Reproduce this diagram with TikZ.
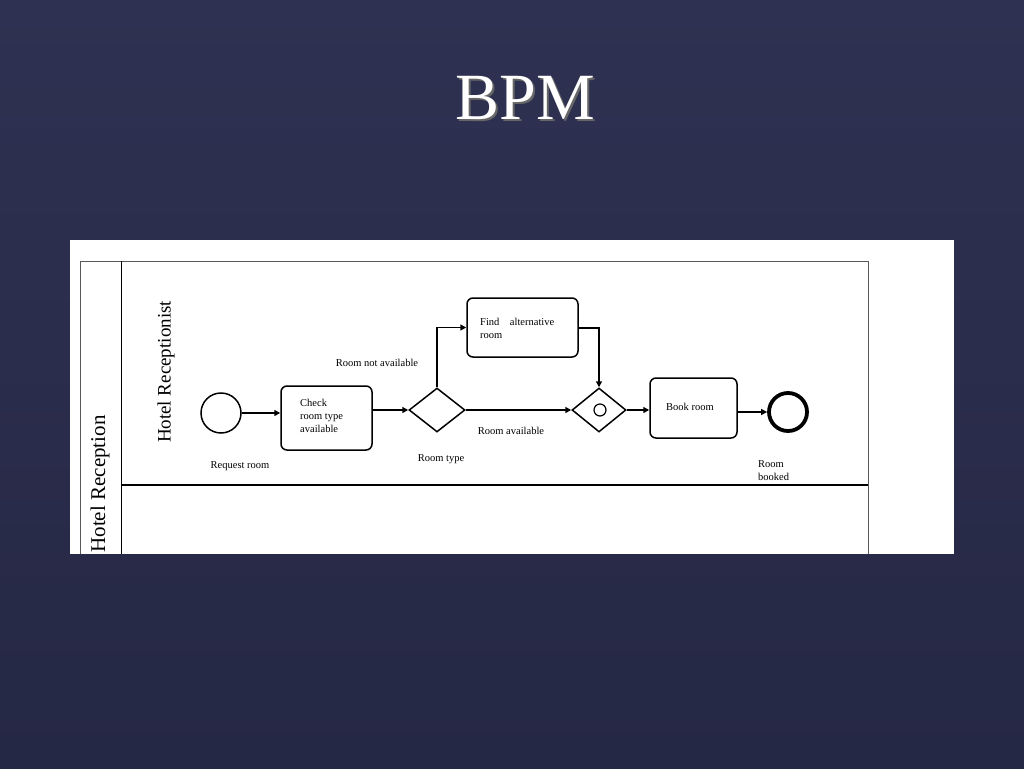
\documentclass[tikz,border=0pt]{standalone}
\usepackage{fontspec}
\setmainfont{Liberation Serif}
\usetikzlibrary{arrows.meta,shapes.geometric}
\definecolor{bgA}{HTML}{2F3152}
\definecolor{bgB}{HTML}{252844}
\begin{document}
\begin{tikzpicture}[x=1pt,y=-1pt,
  task/.style={draw,line width=1.5pt,rounded corners=6pt,fill=white},
  gate/.style={draw,line width=1.5pt,diamond,fill=white,inner sep=0pt},
  lbl/.style={font=\fontsize{10.5}{13}\selectfont,inner sep=0pt},
  flow/.style={line width=1.5pt,-{Triangle[length=6pt,width=6pt]}}]
\useasboundingbox (0,0) rectangle (1024,768);
\shade[top color=bgA,bottom color=bgB] (0,0) rectangle (1024,768);
\node[text=black!60,font=\fontsize{66}{70}\selectfont] (shadow) at (527,100) {BPM};
\node[text=white,font=\fontsize{66}{70}\selectfont] (title) at (525,98) {BPM};
\fill[white] (70,240) rectangle (954,554);
\draw[gray!70!black,line width=1pt] (80,554) -- (80,261) -- (868,261) -- (868,554);
\draw[line width=1pt] (121,261) -- (121,554);
\draw[line width=2pt] (121,485) -- (868,485);
\node[rotate=90,font=\fontsize{21}{24}\selectfont] (pool) at (100,484) {Hotel Reception};
\node[rotate=90,font=\fontsize{19}{22}\selectfont] (lane) at (166,372) {Hotel Receptionist};
\node[draw,circle,line width=1.5pt,minimum size=40pt,inner sep=0pt] (start) at (221,413) {};
\node[task,minimum width=91pt,minimum height=64pt] (check) at (326.5,418) {};
\node[lbl,align=left,anchor=north west] (checkt) at (300,399) {Check\\room type\\available};
\node[gate,minimum width=56pt,minimum height=44pt] (g1) at (437,410) {};
\node[task,minimum width=111pt,minimum height=59pt] (find) at (522.5,327.5) {};
\node[lbl,anchor=west,align=left] (findt) at (480,328) {Find\quad alternative\\room};
\node[gate,minimum width=54pt,minimum height=44pt] (g2) at (599,410) {};
\node[draw,circle,line width=1.2pt,minimum size=12pt,inner sep=0pt] (g2c) at (600,410) {};
\node[task,minimum width=87pt,minimum height=60pt] (book) at (693.5,408) {};
\node[lbl] (bookt) at (690,407) {Book room};
\node[draw,circle,line width=3.8pt,minimum size=38pt,inner sep=0pt] (end) at (788,412) {};
\draw[flow] (start) -- (check.west |- start);
\draw[flow] (check.east |- g1) -- (g1.west);
\draw[flow] (g1.north) |- (find.west);
\coordinate (fc) at (599,328);
\draw[flow] (find.east |- fc) -- (fc) -- (g2.north);
\draw[flow] (g1.east) -- (g2.west);
\draw[flow] (g2.east) -- (book.west |- g2);
\draw[flow] (book.east |- end) -- (end.west);
\node[lbl] (l1) at (240,466) {Request room};
\node[lbl] (l2) at (377,363) {Room not available};
\node[lbl] (l3) at (441,459) {Room type};
\node[lbl] (l4) at (511,431) {Room available};
\node[lbl,anchor=west,align=left] (l5) at (758,471) {Room\\booked};
\end{tikzpicture}
\end{document}
